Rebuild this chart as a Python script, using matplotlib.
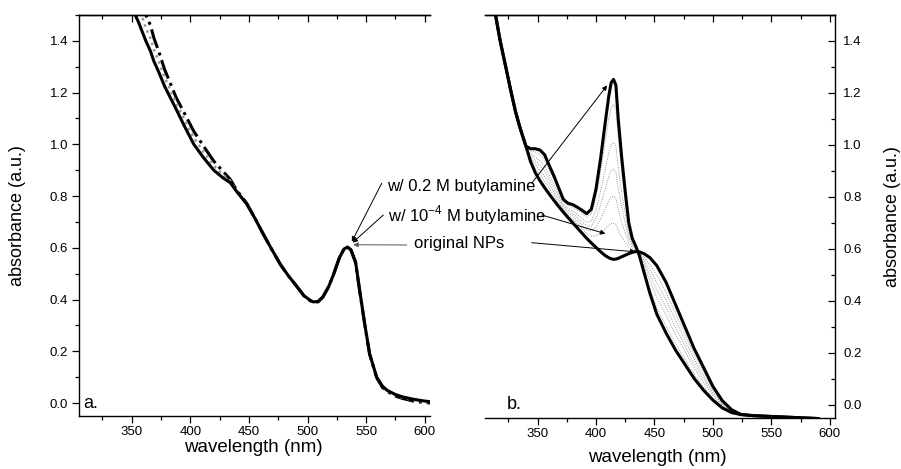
import numpy as np
import matplotlib
matplotlib.use("Agg")
import matplotlib.pyplot as plt
from matplotlib.ticker import MultipleLocator, FormatStrFormatter

plt.rcParams['font.family'] = ['Liberation Sans', 'DejaVu Sans']
plt.rcParams['mathtext.fontset'] = 'custom'
plt.rcParams['mathtext.rm'] = 'Liberation Sans'

# ---- panel a: three nearly identical spectra ----
wl_a = [353, 356, 359, 362, 366, 369, 373, 378, 383, 388, 395, 403, 411, 420, 428, 434,
        440, 448, 455, 462, 469, 477, 484, 491, 497, 502, 505, 509, 513, 518, 522, 527,
        531, 534, 537, 541, 545, 549, 553, 559, 564, 568, 575, 581, 590, 598, 605]
abs_a_orig = [1.50, 1.47, 1.435, 1.40, 1.36, 1.32, 1.28, 1.225, 1.18, 1.135, 1.07, 1.00,
              0.95, 0.90, 0.87, 0.852, 0.815, 0.77, 0.715, 0.655, 0.598, 0.535, 0.49,
              0.45, 0.415, 0.398, 0.391, 0.393, 0.41, 0.45, 0.495, 0.56, 0.595, 0.603,
              0.593, 0.545, 0.42, 0.30, 0.19, 0.10, 0.065, 0.049, 0.033, 0.024, 0.015,
              0.009, 0.005]
abs_a_low = [1.56, 1.525, 1.49, 1.45, 1.41, 1.365, 1.32, 1.26, 1.21, 1.16, 1.095, 1.025,
             0.972, 0.918, 0.882, 0.86, 0.818, 0.772, 0.717, 0.656, 0.598, 0.535, 0.49,
             0.45, 0.415, 0.397, 0.39, 0.392, 0.41, 0.45, 0.495, 0.56, 0.594, 0.602,
             0.592, 0.544, 0.42, 0.30, 0.19, 0.10, 0.063, 0.047, 0.030, 0.021, 0.012,
             0.006, 0.003]
abs_a_high = [1.62, 1.58, 1.54, 1.50, 1.46, 1.41, 1.36, 1.29, 1.235, 1.18, 1.12, 1.05,
              0.995, 0.935, 0.895, 0.865, 0.82, 0.773, 0.716, 0.655, 0.597, 0.534, 0.49,
              0.45, 0.414, 0.396, 0.389, 0.391, 0.409, 0.449, 0.494, 0.559, 0.594, 0.602,
              0.592, 0.543, 0.418, 0.298, 0.188, 0.098, 0.06, 0.045, 0.027, 0.018, 0.008,
              0.003, 0.0]

# ---- panel b: titration with butylamine ----
wl_b = [314, 318, 323, 327, 331, 335, 340, 344, 348, 352, 356, 360, 364, 368, 372, 376,
        380, 384, 388, 392, 396, 400, 404, 408, 411, 413, 415, 417, 419, 422, 425, 428,
        431, 434, 437, 441, 446, 452, 460, 468, 476, 484, 492, 500, 508, 516, 524, 535,
        550, 570, 590]
abs_b_orig = [1.50, 1.40, 1.295, 1.21, 1.13, 1.065, 0.995, 0.935, 0.893, 0.862, 0.835,
              0.81, 0.786, 0.763, 0.741, 0.72, 0.70, 0.68, 0.66, 0.64, 0.622, 0.605, 0.588,
              0.573, 0.565, 0.561, 0.559, 0.56, 0.563, 0.569, 0.575, 0.581, 0.586, 0.589,
              0.588, 0.581, 0.566, 0.535, 0.47, 0.385, 0.30, 0.215, 0.143, 0.07, 0.015,
              -0.02, -0.038, -0.043, -0.046, -0.05, -0.054]
abs_b_02M = [1.50, 1.40, 1.295, 1.21, 1.13, 1.065, 0.995, 0.985, 0.985, 0.98, 0.962,
             0.92, 0.88, 0.835, 0.79, 0.775, 0.77, 0.76, 0.748, 0.735, 0.752, 0.83, 0.95,
             1.09, 1.19, 1.24, 1.252, 1.23, 1.10, 0.95, 0.82, 0.70, 0.64, 0.61, 0.575,
             0.51, 0.43, 0.348, 0.275, 0.21, 0.155, 0.10, 0.055, 0.017, -0.013, -0.031,
             -0.039, -0.043, -0.046, -0.05, -0.054]
# intermediate concentrations (dotted)
abs_b_mid = [
    [1.50, 1.40, 1.295, 1.21, 1.13, 1.065, 0.995, 0.978, 0.972, 0.963, 0.944, 0.905,
     0.867, 0.825, 0.783, 0.767, 0.760, 0.749, 0.736, 0.722, 0.734, 0.799, 0.899, 1.018,
     1.103, 1.145, 1.155, 1.136, 1.025, 0.897, 0.786, 0.683, 0.632, 0.607, 0.577, 0.520,
     0.449, 0.374, 0.302, 0.235, 0.175, 0.116, 0.067, 0.024, -0.009, -0.029, -0.039,
     -0.043, -0.046, -0.05, -0.054],
    [1.50, 1.40, 1.295, 1.21, 1.13, 1.065, 0.995, 0.968, 0.953, 0.939, 0.918, 0.882,
     0.847, 0.810, 0.773, 0.756, 0.746, 0.732, 0.717, 0.702, 0.707, 0.751, 0.823, 0.909,
     0.971, 1.002, 1.009, 0.996, 0.912, 0.817, 0.734, 0.658, 0.621, 0.603, 0.580, 0.535,
     0.478, 0.413, 0.343, 0.271, 0.206, 0.140, 0.086, 0.036, -0.003, -0.027, -0.039,
     -0.043, -0.046, -0.05, -0.054],
    [1.50, 1.40, 1.295, 1.21, 1.13, 1.065, 0.995, 0.960, 0.939, 0.921, 0.899, 0.865,
     0.833, 0.799, 0.766, 0.748, 0.735, 0.720, 0.704, 0.688, 0.687, 0.718, 0.769, 0.832,
     0.878, 0.901, 0.906, 0.895, 0.832, 0.760, 0.698, 0.641, 0.613, 0.600, 0.582, 0.546,
     0.498, 0.442, 0.373, 0.298, 0.228, 0.158, 0.099, 0.044, 0.001, -0.026, -0.039,
     -0.043, -0.046, -0.05, -0.054],
    [1.50, 1.40, 1.295, 1.21, 1.13, 1.065, 0.995, 0.953, 0.925, 0.903, 0.879, 0.849,
     0.819, 0.788, 0.758, 0.739, 0.725, 0.708, 0.691, 0.673, 0.668, 0.684, 0.715, 0.754,
     0.784, 0.799, 0.802, 0.795, 0.751, 0.702, 0.661, 0.623, 0.605, 0.596, 0.583, 0.556,
     0.518, 0.470, 0.402, 0.324, 0.249, 0.175, 0.112, 0.051, 0.005, -0.024, -0.039,
     -0.043, -0.046, -0.05, -0.054],
    [1.50, 1.40, 1.295, 1.21, 1.13, 1.065, 0.995, 0.945, 0.911, 0.886, 0.860, 0.832,
     0.805, 0.777, 0.751, 0.731, 0.714, 0.696, 0.678, 0.659, 0.648, 0.650, 0.660, 0.676,
     0.690, 0.697, 0.698, 0.694, 0.670, 0.645, 0.624, 0.605, 0.597, 0.593, 0.585, 0.567,
     0.539, 0.498, 0.431, 0.350, 0.271, 0.192, 0.125, 0.059, 0.009, -0.022, -0.039,
     -0.043, -0.046, -0.05, -0.054],
]

label_02M = "w/ 0.2 M butylamine"
label_low = r"w/ 10$^{\mathregular{-4}}$ M butylamine"
label_orig = "original NPs"

W, H = 901, 469
fig = plt.figure(figsize=(W / 100, H / 100), dpi=100)
ax1 = fig.add_axes([79 / W, (H - 416) / H, 351 / W, 401 / H])
ax2 = fig.add_axes([485 / W, (H - 417.5) / H, 350 / W, 402.5 / H])

lw_thick = 2.2
ax1.plot(wl_a, abs_a_high, color='black', lw=lw_thick, ls='-.')
ax1.plot(wl_a, abs_a_low, color='#999999', lw=1.8, ls=':')
ax1.plot(wl_a, abs_a_orig, color='black', lw=lw_thick)

for curve in abs_b_mid:
    ax2.plot(wl_b, curve, color='#777777', lw=0.6, ls=':')
ax2.plot(wl_b, abs_b_orig, color='black', lw=lw_thick)
ax2.plot(wl_b, abs_b_02M, color='black', lw=lw_thick)

for ax in (ax1, ax2):
    ax.set_xlim(305, 604.5)
    ax.set_ylim(-0.05, 1.5)
    ax.xaxis.set_major_locator(MultipleLocator(50))
    ax.xaxis.set_minor_locator(MultipleLocator(25))
    ax.yaxis.set_major_locator(MultipleLocator(0.2))
    ax.yaxis.set_minor_locator(MultipleLocator(0.1))
    ax.yaxis.set_major_formatter(FormatStrFormatter('%.1f'))
    ax.tick_params(axis='x', which='major', direction='out', length=4.8, width=0.9,
                   labelsize=9.5, pad=2.5)
    ax.tick_params(axis='x', which='minor', direction='out', length=2.9, width=0.9)
    # inward ticks along the top
    top = ax.secondary_xaxis('top')
    top.xaxis.set_major_locator(MultipleLocator(50))
    top.xaxis.set_minor_locator(MultipleLocator(25))
    top.tick_params(which='major', direction='in', length=4.8, width=0.9, labeltop=False)
    top.tick_params(which='minor', direction='in', length=2.9, width=0.9)
    top.spines['top'].set_linewidth(1.0)
    for s in ax.spines.values():
        s.set_linewidth(1.0)
    ax.set_xlabel("wavelength (nm)", fontsize=13.5)
    ax.set_ylabel("absorbance (a.u.)", fontsize=13)

ax1.spines['right'].set_visible(False)
ax1.tick_params(axis='y', which='major', direction='out', length=4.8, width=0.9,
                labelsize=9.5, pad=3)
ax1.tick_params(axis='y', which='minor', direction='out', length=2.9, width=0.9)
ax1.xaxis.set_label_coords(0.496, -0.058)
ax1.yaxis.set_label_coords(-0.151, 0.5)

ax2.spines['left'].set_visible(False)
ax2.yaxis.tick_right()
ax2.yaxis.set_label_position('right')
ax2.tick_params(axis='y', which='major', direction='in', length=4.8, width=0.9,
                labelsize=9.5, pad=6)
ax2.tick_params(axis='y', which='minor', direction='in', length=2.9, width=0.9)
ax2.xaxis.set_label_coords(0.493, -0.078)
ax2.yaxis.set_label_coords(1.14, 0.5)

ax1.text(309, 0.0, "a.", fontsize=13, va='center', ha='left')
ax2.text(324, 0.0, "b.", fontsize=13, va='center', ha='left')

# labels in the gap between the panels
fig.text(387 / W, 278.5 / H, label_02M, fontsize=12, va='baseline', ha='left')
fig.text(388 / W, 248 / H, label_low, fontsize=12, va='baseline', ha='left')
fig.text(414 / W, 221.5 / H, label_orig, fontsize=12, va='baseline', ha='left')

arrow = dict(arrowstyle='-|>', color='black', lw=0.7, mutation_scale=7,
             shrinkA=0, shrinkB=0)
arrow_grey = dict(arrow, color='#555555')
# arrows to panel a peak
ax1.annotate('', xy=(537.8, 0.624), xytext=(381.7, 285.7), textcoords='figure pixels',
             arrowprops=arrow, annotation_clip=False)
ax1.annotate('', xy=(538.5, 0.62), xytext=(383.3, 254), textcoords='figure pixels',
             arrowprops=arrow, annotation_clip=False)
ax1.annotate('', xy=(539, 0.612), xytext=(406.7, 224), textcoords='figure pixels',
             arrowprops=arrow_grey, annotation_clip=False)
# arrows into panel b
ax2.annotate('', xy=(409.5, 1.229), xytext=(531.7, 285.7), textcoords='figure pixels',
             arrowprops=arrow, annotation_clip=False)
ax2.annotate('', xy=(408, 0.658), xytext=(541.7, 254), textcoords='figure pixels',
             arrowprops=arrow, annotation_clip=False)
ax2.annotate('', xy=(433.6, 0.588), xytext=(531.7, 226.3), textcoords='figure pixels',
             arrowprops=arrow, annotation_clip=False)

fig.savefig("out.png", dpi=100)
